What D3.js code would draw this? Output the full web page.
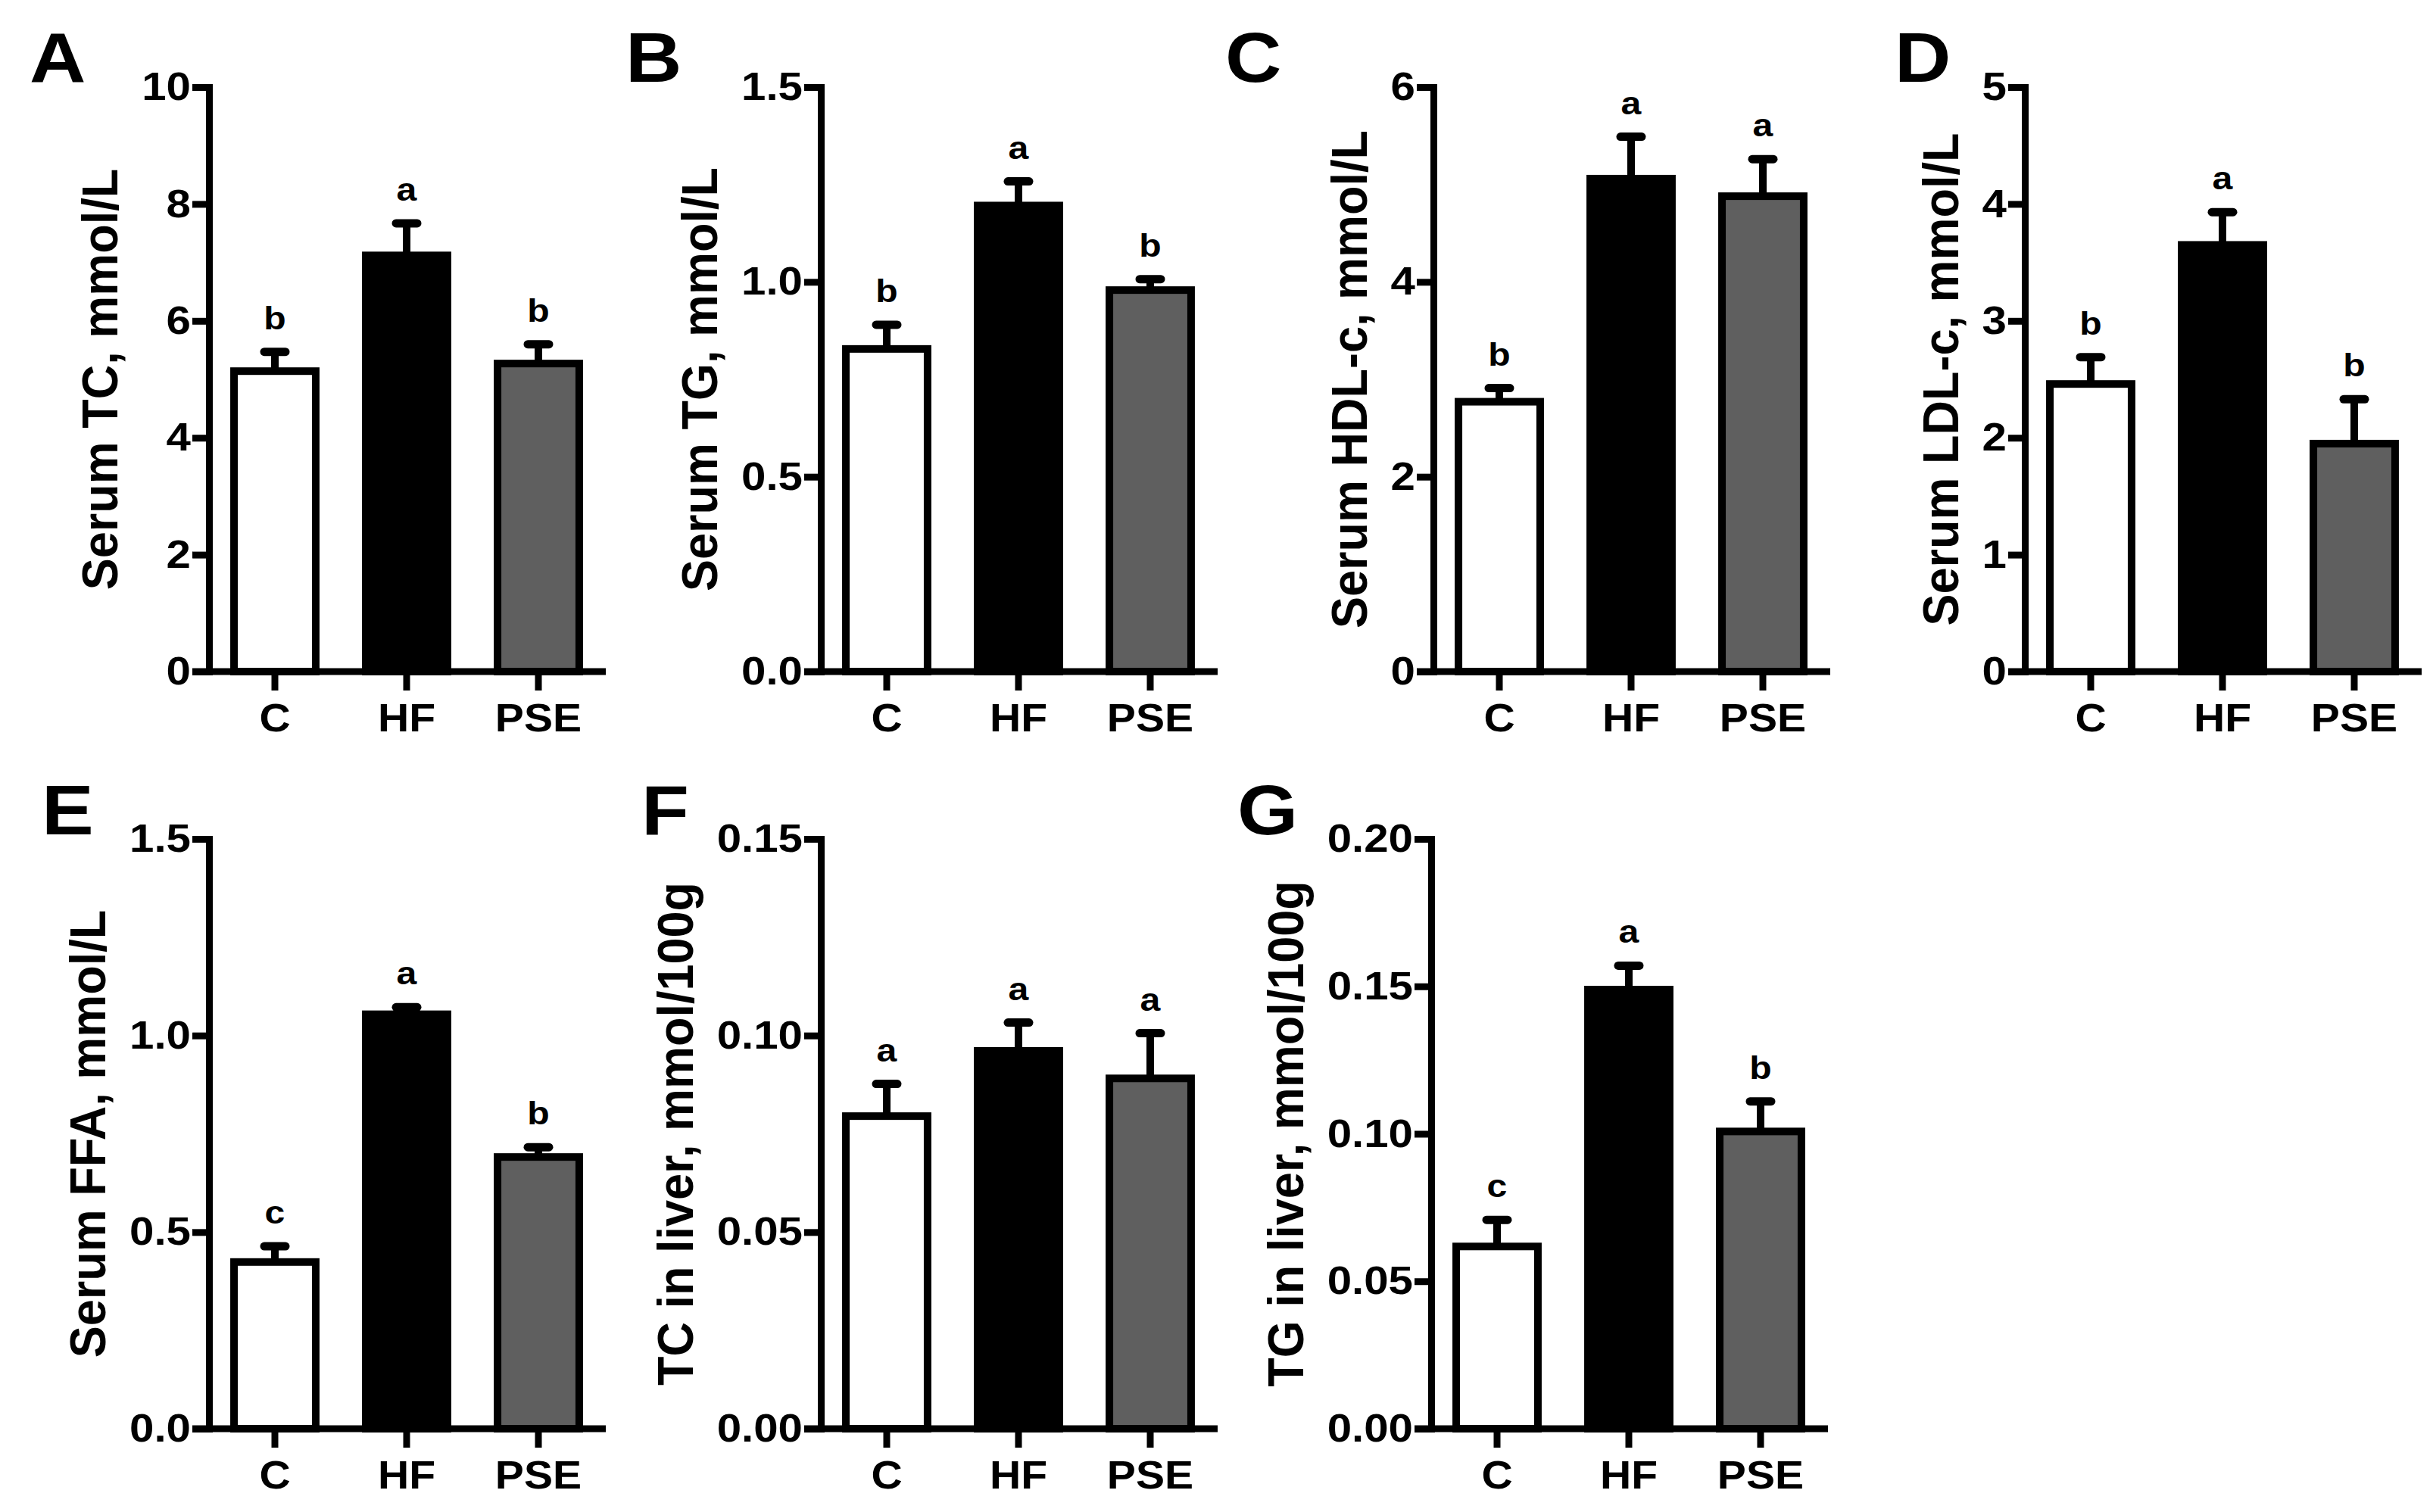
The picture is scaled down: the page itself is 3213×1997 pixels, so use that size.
<!DOCTYPE html>
<html>
<head>
<meta charset="utf-8">
<script src="https://cdn.jsdelivr.net/npm/d3@7"></script>
<style>
  body { margin: 0; background: #fff; }
  text { font-family: "Liberation Sans", Arial, sans-serif; font-weight: bold; fill: #000; }
</style>
</head>
<body>
<div id="chart"></div>
<script>
// groups on every panel
const categories = ["C", "HF", "PSE"];

// bar heights and SEM
const serumTC = [5.14, 7.12, 5.27];
const serumTCErr = [0.33, 0.55, 0.33];
const serumTG = [0.828, 1.196, 0.979];
const serumTGErr = [0.062, 0.062, 0.028];
const serumHDL = [2.77, 5.06, 4.88];
const serumHDLErr = [0.14, 0.43, 0.38];
const serumLDL = [2.46, 3.65, 1.95];
const serumLDLErr = [0.23, 0.28, 0.38];
const serumFFA = [0.424, 1.054, 0.691];
const serumFFAErr = [0.04, 0.018, 0.025];
const liverTC = [0.0795, 0.0961, 0.0891];
const liverTCErr = [0.0082, 0.0072, 0.0115];
const liverTG = [0.0618, 0.1489, 0.1008];
const liverTGErr = [0.009, 0.0081, 0.0102];

// significance letters
const sigTC = ["b", "a", "b"];
const sigTG = ["b", "a", "b"];
const sigHDL = ["b", "a", "a"];
const sigLDL = ["b", "a", "b"];
const sigFFA = ["c", "a", "b"];
const sigLiverTC = ["a", "a", "a"];
const sigLiverTG = ["c", "a", "b"];

// axis labels and ticks
const panelLetters = ["A", "B", "C", "D", "E", "F", "G"];
const yLabels = ["Serum TC, mmol/L", "Serum TG, mmol/L", "Serum HDL-c, mmol/L", "Serum LDL-c, mmol/L",
                 "Serum FFA, mmol/L", "TC in liver, mmol/100g", "TG in liver, mmol/100g"];
const tickTC = [0, 2, 4, 6, 8, 10];
const tickTG = [0, 0.5, 1.0, 1.5];
const tickHDL = [0, 2, 4, 6];
const tickLDL = [0, 1, 2, 3, 4, 5];
const tickFFA = [0, 0.5, 1.0, 1.5];
const tickLiverTC = [0, 0.05, 0.10, 0.15];
const tickLiverTG = [0, 0.05, 0.10, 0.15, 0.20];

const panels = [
    {values: serumTC, errs: serumTCErr, sig: sigTC, ticks: tickTC, fmt: "d"},
    {values: serumTG, errs: serumTGErr, sig: sigTG, ticks: tickTG, fmt: ".1f"},
    {values: serumHDL, errs: serumHDLErr, sig: sigHDL, ticks: tickHDL, fmt: "d"},
    {values: serumLDL, errs: serumLDLErr, sig: sigLDL, ticks: tickLDL, fmt: "d"},
    {values: serumFFA, errs: serumFFAErr, sig: sigFFA, ticks: tickFFA, fmt: ".1f"},
    {values: liverTC, errs: liverTCErr, sig: sigLiverTC, ticks: tickLiverTC, fmt: ".2f"},
    {values: liverTG, errs: liverTGErr, sig: sigLiverTG, ticks: tickLiverTG, fmt: ".2f"}
];

// layout: axis origin x per panel, panel letter x, row tops/bottoms
const axisX = [276, 1084, 1893, 2674, 276, 1084, 1890];
const letterX = [39, 826, 1618, 2502, 55, 847, 1634];
const panelRow = [0, 0, 0, 0, 1, 1, 1];
const rowTop = [115, 1108];
const rowZero = [887, 1887];
const letterBase = [108, 1102];

const fills = ["#ffffff", "#000000", "#5f5f5f"];
const xLen = 524, tickLen = 22, lineW = 9, barW = 10;
const sx = 1.12;     // fonts in the figure are drawn a little wide
const sxRot = 1.05;

const svg = d3.select("#chart").append("svg")
    .attr("width", 3213)
    .attr("height", 1997);

svg.append("rect").attr("width", 3213).attr("height", 1997).attr("fill", "#fff");

panels.forEach((p, i) => {
    let row = panelRow[i];
    let g = svg.append("g").attr("transform", `translate(${axisX[i]},0)`);

    let y = d3.scaleLinear()
        .domain([0, d3.max(p.ticks)])
        .range([rowZero[row], rowTop[row]]);

    let x = d3.scaleBand()
        .domain(categories)
        .range([0, 522])
        .paddingInner(0.38)
        .paddingOuter(0.19);

    // bars
    g.selectAll(".bar")
        .data(p.values)
        .enter().append("rect")
        .attr("class", "bar")
        .attr("x", (d, j) => x(categories[j]))
        .attr("y", d => y(d))
        .attr("width", x.bandwidth())
        .attr("height", d => y(0) - y(d))
        .attr("fill", (d, j) => fills[j])
        .attr("stroke", "#000")
        .attr("stroke-width", barW);

    // upper error bars
    p.values.forEach((v, j) => {
        let cx = x(categories[j]) + x.bandwidth() / 2;
        let top = y(v + p.errs[j]);
        g.append("line")
            .attr("x1", cx).attr("x2", cx)
            .attr("y1", y(v)).attr("y2", top)
            .attr("stroke", "#000").attr("stroke-width", barW);
        g.append("line")
            .attr("x1", cx - 14).attr("x2", cx + 14)
            .attr("y1", top).attr("y2", top)
            .attr("stroke", "#000").attr("stroke-width", 11)
            .attr("stroke-linecap", "round");
        g.append("text")
            .attr("transform", `translate(${cx},${top - 30}) scale(${sx},1)`)
            .attr("text-anchor", "middle")
            .style("font-size", "43px")
            .text(p.sig[j]);
    });

    // y axis
    let yAxis = g.append("g")
        .call(d3.axisLeft(y).tickValues(p.ticks).tickFormat(d3.format(p.fmt))
            .tickSize(tickLen).tickSizeOuter(0));
    yAxis.select(".domain").attr("stroke-width", lineW).attr("stroke-linecap", "square");
    yAxis.selectAll(".tick line").attr("stroke-width", lineW);
    yAxis.selectAll(".tick text")
        .attr("x", null)
        .attr("transform", `translate(${-(tickLen + 2)},0) scale(${sx},1)`)
        .style("font-size", "52px")
        .style("font-family", null);

    // x axis
    let xAxis = g.append("g")
        .attr("transform", `translate(0,${y(0)})`)
        .call(d3.axisBottom(x).tickSize(tickLen + 3).tickSizeOuter(0));
    xAxis.select(".domain").remove();
    xAxis.selectAll(".tick line").attr("stroke-width", lineW);
    xAxis.selectAll(".tick text")
        .attr("y", null).attr("dy", null)
        .attr("transform", `translate(0,79) scale(${sx},1)`)
        .style("font-size", "51px")
        .style("font-family", null);
    g.append("line")
        .attr("x1", -tickLen).attr("x2", xLen)
        .attr("y1", y(0)).attr("y2", y(0))
        .attr("stroke", "#000").attr("stroke-width", lineW);

    // y label, placed left of the widest tick label
    let widest = d3.max(yAxis.selectAll(".tick text").nodes(), n => n.getComputedTextLength()) * sx;
    let labelX = -(tickLen + 2) - widest - 32;
    g.append("text")
        .attr("transform", `translate(${labelX},${(rowTop[row] + rowZero[row]) / 2}) scale(${sxRot},1) rotate(-90)`)
        .attr("text-anchor", "middle")
        .style("font-size", "63px")
        .text(yLabels[i]);

    // panel letter
    svg.append("text")
        .attr("transform", `translate(${letterX[i]},${letterBase[row]}) scale(${sx},1)`)
        .style("font-size", "92px")
        .text(panelLetters[i]);
});
</script>
</body>
</html>
